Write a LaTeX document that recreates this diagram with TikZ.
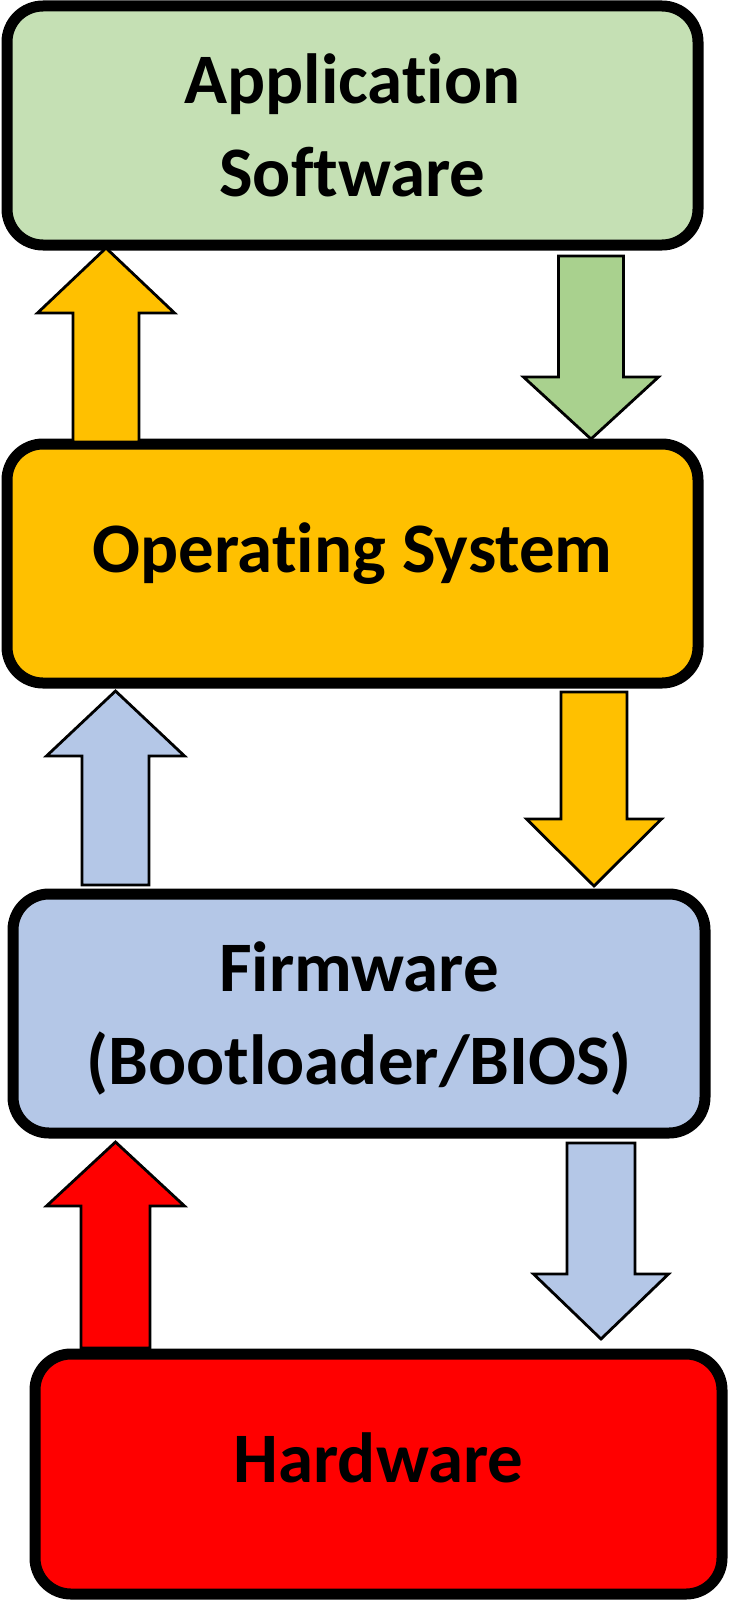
\documentclass[tikz,border=0pt]{standalone}
\usepackage{fontspec}
\setmainfont{Carlito}[RawFeature={-liga;-clig;-calt;-dlig}]
\usetikzlibrary{calc}
\definecolor{appfill}{HTML}{C5E0B4}
\definecolor{greenarr}{HTML}{A9D18E}
\definecolor{orangeC}{HTML}{FFC000}
\definecolor{blueC}{HTML}{B4C7E7}
\definecolor{redC}{HTML}{FF0000}
\tikzset{
  layerbox/.style={draw=black, line width=11pt, rounded corners=36pt, inner sep=0pt,
    align=center, font=\fontsize{71}{93}\selectfont\bfseries},
  oneline/.style={text height=45pt, text depth=28pt},
  twoline/.style={text depth=0pt},
  blkarrow/.style={draw=black, line width=2.8pt, line join=miter},
}
% #1 fill, #2 tail, #3 tip, #4 shaft half width, #5 head half width, #6 head length (signed)
\newcommand\blockarr[6]{%
  \draw[blkarrow, fill=#1] ($(#2)+(-#4,0)$) -- ($(#3)+(-#4,#6)$) -- ($(#3)+(-#5,#6)$) -- (#3)
    -- ($(#3)+(#5,#6)$) -- ($(#3)+(#4,#6)$) -- ($(#2)+(#4,0)$) -- cycle;}
\begin{document}
\begin{tikzpicture}[x=1pt, y=-1pt]
\useasboundingbox (0,0) rectangle (728,1600);
% layers
\node[layerbox, twoline, fill=appfill, minimum width=691pt, minimum height=239pt] (app) at (352.5,125.5) {Application\\Software};
\node[layerbox, oneline, fill=orangeC, minimum width=691pt, minimum height=239pt] (os) at (352.5,563.5) {Operating System};
\node[layerbox, twoline, fill=blueC, minimum width=692pt, minimum height=239pt] (fw) at (359,1013.5) {Firmware\\(Bootloader/BIOS)};
\node[layerbox, oneline, fill=redC, minimum width=687pt, minimum height=240pt] (hw) at (378.5,1474) {Hardware};
% arrow end points
\coordinate (a1tail) at (106,442);   \coordinate (a1tip) at (106,248);
\coordinate (a2tail) at (591,256);   \coordinate (a2tip) at (591,439);
\coordinate (a3tail) at (115.5,885); \coordinate (a3tip) at (115.5,691);
\coordinate (a4tail) at (594,692);   \coordinate (a4tip) at (594,886);
\coordinate (a5tail) at (115.5,1348);\coordinate (a5tip) at (115.5,1142);
\coordinate (a6tail) at (601,1143);  \coordinate (a6tip) at (601,1339);
% arrows
\blockarr{orangeC}{a1tail}{a1tip}{33}{68.5}{65}
\blockarr{greenarr}{a2tail}{a2tip}{32.5}{67.5}{-62}
\blockarr{blueC}{a3tail}{a3tip}{33.5}{69}{65}
\blockarr{orangeC}{a4tail}{a4tip}{33}{67.5}{-67}
\blockarr{redC}{a5tail}{a5tip}{34.5}{69}{64}
\blockarr{blueC}{a6tail}{a6tip}{34}{67.5}{-65}
\end{tikzpicture}
\end{document}
